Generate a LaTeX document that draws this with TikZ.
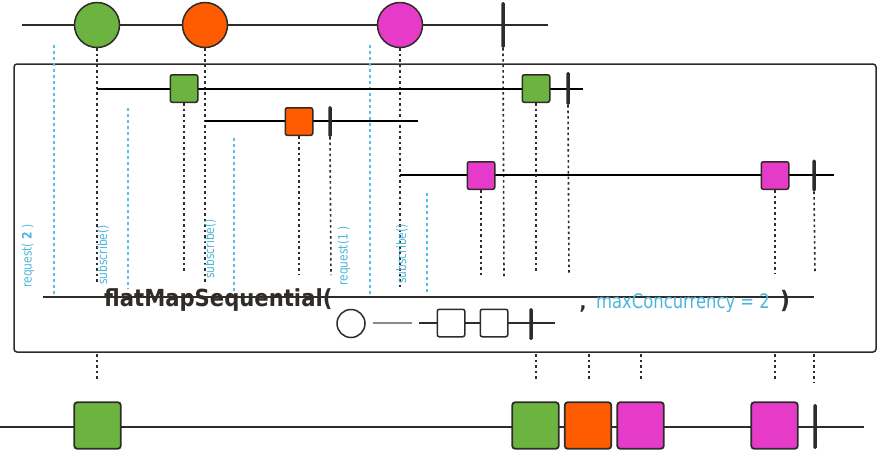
\documentclass[tikz,border=0pt]{standalone}
\usepackage{fontspec}
\setmainfont{DejaVu Sans}
\newfontfamily\lblfont[FakeStretch=0.82]{DejaVu Sans}
\newfontfamily\opfont[FakeStretch=0.9]{DejaVu Sans}
\definecolor{dk}{HTML}{2F2B28}
\definecolor{cg}{HTML}{6DB33F}
\definecolor{co}{HTML}{FF5B00}
\definecolor{cm}{HTML}{E63BC9}
\definecolor{bl}{HTML}{4DB5DD}
\definecolor{bd}{HTML}{55BFE6}
\definecolor{gr}{HTML}{8A8A8A}
\tikzset{
  ln/.style={draw=dk, line width=1.4pt},
  iln/.style={draw=black, line width=1.5pt},
  marble/.style={circle, draw=dk, line width=1.5pt, minimum size=45pt, inner sep=0pt},
  sq/.style={rectangle, rounded corners=2pt, draw=dk, line width=1.5pt, minimum size=27.5pt, inner sep=0pt},
  bigsq/.style={rectangle, rounded corners=3pt, draw=dk, line width=1.8pt, minimum size=46.5pt, inner sep=0pt},
  hollow/.style={rectangle, rounded corners=2pt, draw=dk, line width=1.5pt, fill=white, minimum size=27.5pt, inner sep=0pt},
  endbar/.style={rectangle, rounded corners=1.5pt, fill=dk, minimum width=3.5pt, inner sep=0pt},
  dots/.style={draw=dk, line width=1.6pt, dash pattern=on 2.5pt off 3pt},
  bdash/.style={draw=bd, line width=1.6pt, dash pattern=on 3pt off 3pt},
  lbl/.style={text=bl, font=\lblfont\fontsize{13}{13}\selectfont, inner sep=0pt, rotate=90},
}
\begin{document}
\begin{tikzpicture}[x=1pt,y=-1pt]
\useasboundingbox (0,0) rectangle (891,451);

% operator box
\node[draw=dk, line width=1.5pt, rounded corners=3pt, minimum width=862pt, minimum height=288pt, inner sep=0pt] (box) at (445,208) {};

% blue dashed request/subscribe markers
\coordinate (b1t) at (54,45);  \coordinate (b1b) at (54,297);
\coordinate (b2t) at (128,108); \coordinate (b2b) at (128,289);
\coordinate (b3t) at (234,138); \coordinate (b3b) at (234,294);
\coordinate (b4t) at (370,45); \coordinate (b4b) at (370,297);
\coordinate (b5t) at (427,193); \coordinate (b5b) at (427,292);
\draw[bdash] (b1t) -- (b1b);
\draw[bdash] (b2t) -- (b2b);
\draw[bdash] (b3t) -- (b3b);
\draw[bdash] (b4t) -- (b4b);
\draw[bdash] (b5t) -- (b5b);

% source line
\coordinate (s0) at (22,25); \coordinate (s1) at (548,25);
\draw[ln] (s0) -- (s1);
\node[marble, fill=cg] (c1) at (97,25) {};
\node[marble, fill=co] (c2) at (205,25) {};
\node[marble, fill=cm] (c3) at (400,25) {};
\node[endbar, minimum height=46pt] (e0) at (503,25) {};

\coordinate (c1d) at (97,284);
\coordinate (c2d) at (205,283);
\coordinate (c3d) at (400,289);
\coordinate (e0d) at (504,277);
\draw[dots] (c1.south) -- (c1d);
\draw[dots] (c2.south) -- (c2d);
\draw[dots] (c3.south) -- (c3d);
\draw[dots] (e0.south) -- (e0d);

% inner 1 (green)
\coordinate (r1a) at (97,89); \coordinate (r1b) at (583,89);
\draw[iln] (r1a) -- (r1b);
\node[sq, fill=cg] (g1) at (184,88.5) {};
\node[sq, fill=cg] (g2) at (536,88.5) {};
\node[endbar, minimum height=33pt] (e1) at (568,88.5) {};
% inner 2 (orange)
\coordinate (r2a) at (205,121); \coordinate (r2b) at (418,121);
\draw[iln] (r2a) -- (r2b);
\node[sq, fill=co] (o1) at (299,121.5) {};
\node[endbar, minimum height=31pt] (e2) at (330,121.5) {};
% inner 3 (magenta)
\coordinate (r3a) at (400,175); \coordinate (r3b) at (834,175);
\draw[iln] (r3a) -- (r3b);
\node[sq, fill=cm] (m1) at (481,175.5) {};
\node[sq, fill=cm] (m2) at (775,175.5) {};
\node[endbar, minimum height=32pt] (e3) at (814,175.5) {};

\coordinate (g1d) at (184,273);
\coordinate (o1d) at (299,274);
\coordinate (e2d) at (331,275);
\coordinate (m1d) at (481,275);
\coordinate (g2d) at (536,273);
\coordinate (e1d) at (569,275);
\coordinate (m2d) at (775,273);
\coordinate (e3d) at (815,272);
\draw[dots] (g1.south) -- (g1d);
\draw[dots] (o1.south) -- (o1d);
\draw[dots] (e2.south) -- (e2d);
\draw[dots] (m1.south) -- (m1d);
\draw[dots] (g2.south) -- (g2d);
\draw[dots] (e1.south) -- (e1d);
\draw[dots] (m2.south) -- (m2d);
\draw[dots] (e3.south) -- (e3d);

% labels
\node[lbl] (l1) at (28,256) {request( \textbf{2} )};
\node[lbl] (l2) at (103,255) {subscribe()};
\node[lbl] (l3) at (210,249) {subscribe()};
\node[lbl] (l4) at (344,256) {request(1 )};
\node[lbl] (l5) at (402,254) {subscribe()};

% operator line and text
\coordinate (op0) at (43,297); \coordinate (op1) at (814,297);
\draw[ln] (op0) -- (op1);
\node[anchor=base west, inner sep=0pt, text=dk, font=\opfont\bfseries\fontsize{23.5}{24}\selectfont] (opname) at (104,306) {flatMapSequential(};
\node[circle, draw=dk, line width=1.5pt, minimum size=28pt, inner sep=0pt] (fc) at (351,323.5) {};
\coordinate (ga) at (373,323); \coordinate (gb) at (412,323);
\draw[draw=gr, line width=1.5pt] (ga) -- (gb);
\coordinate (fa) at (419,323); \coordinate (fb) at (555,323);
\draw[ln] (fa) -- (fb);
\node[hollow] (h1) at (451,323) {};
\node[hollow] (h2) at (494,323) {};
\node[endbar, minimum height=32pt] (e4) at (531,324) {};
\node[anchor=base, inner sep=0pt, text=dk, font=\opfont\bfseries\fontsize{20}{20}\selectfont] (comma) at (583,309) {,};
\node[anchor=base west, inner sep=0pt, text=bl, font=\lblfont\fontsize{20}{20}\selectfont] (mc) at (596,308) {maxConcurrency = 2};
\node[anchor=base, inner sep=0pt, text=dk, font=\opfont\bfseries\fontsize{24}{24}\selectfont] (rp) at (785,308) {)};

% dotted below box
\coordinate (x1a) at (97,354); \coordinate (x1b) at (97,380);
\coordinate (x2a) at (536,354); \coordinate (x2b) at (536,380);
\coordinate (x3a) at (589,354); \coordinate (x3b) at (589,380);
\coordinate (x4a) at (641,354); \coordinate (x4b) at (641,380);
\coordinate (x5a) at (775,354); \coordinate (x5b) at (775,380);
\coordinate (x6a) at (814,354); \coordinate (x6b) at (814,383);
\draw[dots] (x1a) -- (x1b);
\draw[dots] (x2a) -- (x2b);
\draw[dots] (x3a) -- (x3b);
\draw[dots] (x4a) -- (x4b);
\draw[dots] (x5a) -- (x5b);
\draw[dots] (x6a) -- (x6b);

% result line
\coordinate (z0) at (0,427); \coordinate (z1) at (864,427);
\draw[ln] (z0) -- (z1);
\node[bigsq, fill=cg] (q1) at (97.5,425.5) {};
\node[bigsq, fill=cg] (q2) at (535.5,425.5) {};
\node[bigsq, fill=co] (q3) at (588,425.5) {};
\node[bigsq, fill=cm] (q4) at (640.5,425.5) {};
\node[bigsq, fill=cm] (q5) at (774.5,425.5) {};
\node[endbar, minimum height=45pt] (e5) at (815,426.5) {};
\end{tikzpicture}
\end{document}
